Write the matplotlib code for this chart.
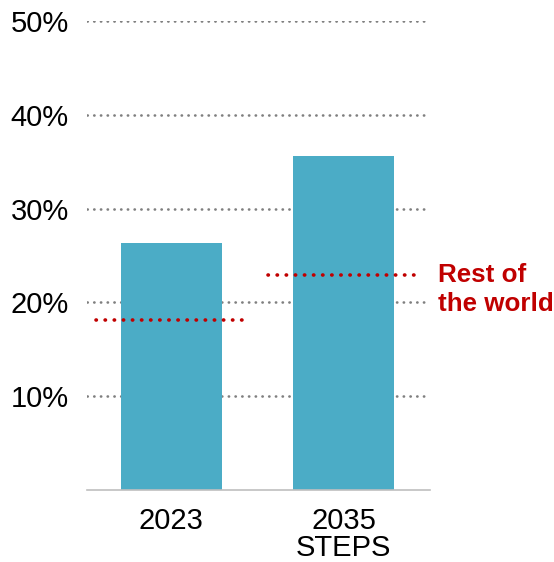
import matplotlib

matplotlib.use("Agg")

import matplotlib.pyplot as plt
import numpy as np

plt.rcParams["font.family"] = ["Liberation Sans", "DejaVu Sans"]

categories = ["2023", "2035\nSTEPS"]
bar_values = [26.3, 35.6]
rest_of_world = [18.1, 22.9]
y_ticks = [10, 20, 30, 40, 50]
y_labels = ["10%", "20%", "30%", "40%", "50%"]

BAR_COLOR = "#4BACC6"
RED = "#C00000"


def main() -> None:
    fig = plt.figure(figsize=(5.54, 5.62), dpi=100)
    ax = fig.add_axes([0.157, 0.128, 0.619, 0.8346])
    x = np.arange(len(categories))

    for yv in y_ticks:
        ax.axhline(yv, color="#7f7f7f", lw=1.9, linestyle=(0, (0.1, 2.45)),
                   dash_capstyle="round", zorder=1)

    ax.bar(x, bar_values, width=0.585, color=BAR_COLOR, zorder=2)

    for xi, v in zip(x, rest_of_world):
        ax.plot([xi - 0.44, xi + 0.43], [v, v], color=RED, lw=2.6,
                linestyle=(0, (0.1, 2.42)), dash_capstyle="round", zorder=3)

    ax.text(1.545, 21.4, "Rest of\nthe world", color=RED,
            fontsize=18.7, fontweight="bold", ha="left", va="center",
            linespacing=1.25, clip_on=False)

    ax.set_xlim(-0.49, 1.5)
    ax.set_ylim(0, 50)
    ax.set_yticks(y_ticks)
    ax.set_yticklabels(y_labels, fontsize=21)
    ax.set_xticks(x)
    ax.set_xticklabels(categories, fontsize=21, linespacing=0.95)
    ax.tick_params(axis="both", length=0)
    ax.tick_params(axis="y", pad=13)
    ax.tick_params(axis="x", pad=12)

    for side in ["left", "right", "top"]:
        ax.spines[side].set_visible(False)
    ax.spines["bottom"].set_color("#bfbfbf")
    ax.spines["bottom"].set_linewidth(1.2)

    fig.savefig("out.png", dpi=100)
    plt.close(fig)


if __name__ == "__main__":
    main()
